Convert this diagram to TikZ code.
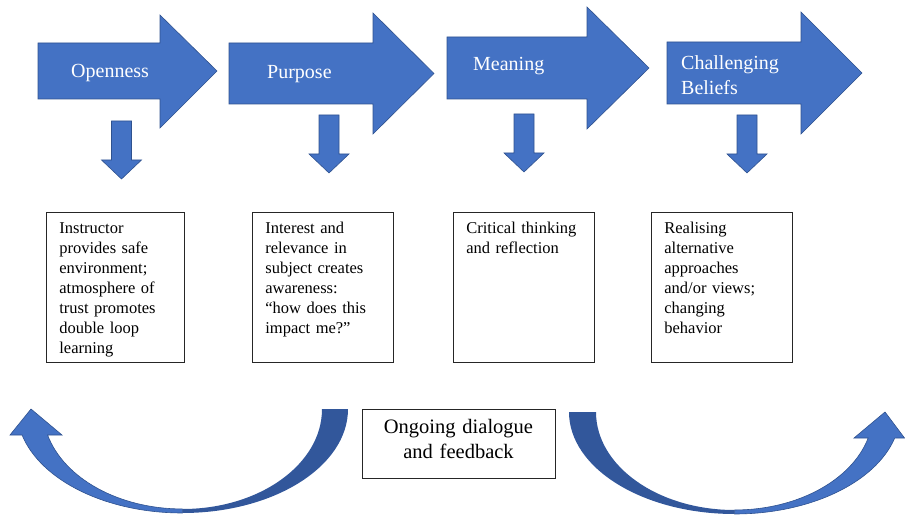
\documentclass[tikz,border=0pt]{standalone}
\usepackage{fontspec}
\setmainfont{Liberation Serif}
\usepackage{tikz}
\definecolor{stageblue}{RGB}{68,114,196}
\definecolor{stageedge}{RGB}{47,82,143}
\definecolor{loopdark}{RGB}{50,87,155}

\begin{document}
\begin{tikzpicture}[x=1pt, y=1pt,
    stage/.style={fill=stageblue, draw=stageedge, line width=0.6pt},
    stagetext/.style={text=white, anchor=west, align=left, inner sep=0pt,
                      font=\fontsize{20}{25}\selectfont},
    card/.style={draw=black!85, line width=0.7pt, anchor=north west, align=left,
                 inner xsep=13pt, inner ysep=8pt, text height=13pt, text depth=121pt,
                 font=\fontsize{16.5}{20}\selectfont}]
    \useasboundingbox (0,0) rectangle (905,515);

    % Stage arrows
    \foreach \xl/\xm/\xr/\bt/\bb/\hu/\hd in {38/160/217/472/416/500/387,
                                            229/373/434/472/411/502/381,
                                            447/587/649/478/416/508/386,
                                            667/801/862/473/411/503/381}
        \draw[stage] (\xl,\bt) -- (\xm,\bt) -- (\xm,\hu) -- ({\xr},{(\bt+\bb)/2})
                     -- (\xm,\hd) -- (\xm,\bb) -- (\xl,\bb) -- cycle;

    \node[stagetext] (open) at (71,442) {Openness};
    \node[stagetext] (purp) at (267,441) {Purpose};
    \node[stagetext] (mean) at (473,449) {Meaning};
    \node[stagetext] (chal) at (681,439.5) {Challenging\\Beliefs};

    % Down arrows
    \foreach \cx/\tp in {121.5/394, 329/400, 524/401, 747/400}
        \draw[stage] (\cx-10,\tp) -- (\cx+10,\tp) -- (\cx+10,\tp-39) -- (\cx+20,\tp-39)
                     -- (\cx,\tp-58) -- (\cx-20,\tp-39) -- (\cx-10,\tp-39) -- cycle;

    % Outcomes
    \node[card, text width=112pt] (openbox) at (46,303)
        {Instructor\\provides safe\\environment;\\atmosphere of\\trust promotes\\double loop\\learning};
    \node[card, text width=115pt] (purpbox) at (252,303)
        {Interest and\\relevance in\\subject creates\\awareness:\\``how does this\\impact me?''};
    \node[card, text width=115pt] (meanbox) at (453,303)
        {Critical thinking\\and reflection};
    \node[card, text width=115pt] (chalbox) at (651,303)
        {Realising\\alternative\\approaches\\and/or views;\\changing\\behavior};

    % Feedback loop
    \node[draw=black!85, line width=0.7pt, anchor=north, inner sep=0pt, text width=193pt,
          text height=24pt, text depth=45pt, align=center,
          font=\fontsize{20.5}{25}\selectfont] (dialog) at (458.5,106)
        {Ongoing dialogue\\and feedback};

    \fill[loopdark] (348,106) arc[start angle=0, end angle=-90, x radius=165.6, y radius=104]
        -- (182.4,6) arc[start angle=-90, end angle=0, x radius=139.6, y radius=100] -- cycle;
    \draw[stage] (182.4,2) arc[start angle=-90, end angle=-165.5, x radius=165.6, y radius=104]
        -- (10,80) -- (31,106) -- (62,80) -- (47.6,80)
        arc[start angle=-164.9, end angle=-90, x radius=139.6, y radius=100] -- cycle;

    \fill[loopdark] (569,103) arc[start angle=180, end angle=270, x radius=165.6, y radius=102]
        -- (734.6,5) arc[start angle=270, end angle=180, x radius=138.6, y radius=98] -- cycle;
    \draw[stage] (734.6,1) arc[start angle=270, end angle=345.2, x radius=165.6, y radius=102]
        -- (904.5,77) -- (885,103) -- (854,77) -- (868.2,77)
        arc[start angle=344.6, end angle=270, x radius=138.6, y radius=98] -- cycle;
\end{tikzpicture}
\end{document}
